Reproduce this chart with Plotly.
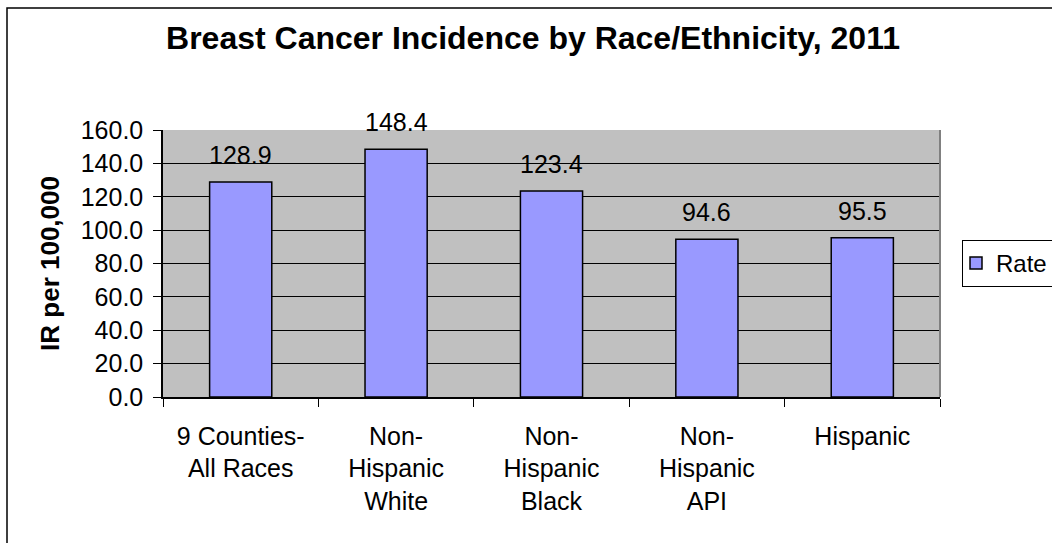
import plotly.graph_objects as go

categories = ["9 Counties-<br>All Races", "Non-<br>Hispanic<br>White", "Non-<br>Hispanic<br>Black",
              "Non-<br>Hispanic<br>API", "Hispanic"]
rates = [128.9, 148.4, 123.4, 94.6, 95.5]
y_ticks = [0, 20, 40, 60, 80, 100, 120, 140, 160]
series_name = "Rate"
title_text = "Breast Cancer Incidence by Race/Ethnicity, 2011"
y_title = "IR per 100,000"

W, H = 1052, 543
ml, mr, mt, mb = 163, 112, 130, 146
pw, ph = W - ml - mr, H - mt - mb
FONT = "Liberation Sans, Arial, sans-serif"

fig = go.Figure()
fig.add_trace(go.Bar(
    x=categories, y=rates, name=series_name,
    marker=dict(color="#9999FF", line=dict(color="black", width=1.5)),
    showlegend=True,
))

for c, v in zip(categories, rates):
    fig.add_annotation(x=c, y=v, text=f"{v:.1f}", showarrow=False,
                       yanchor="middle", yshift=27,
                       font=dict(family=FONT, size=25, color="black"))

def px_x(p):
    return (p - ml) / pw

def px_y(p):
    return (H - mb - p) / ph

# outer chart border (extends past the visible window on the right/bottom)
fig.add_shape(type="rect", xref="paper", yref="paper",
              x0=px_x(7), y0=px_y(560), x1=px_x(1070), y1=px_y(8),
              line=dict(color="black", width=1.5), fillcolor="rgba(0,0,0,0)", layer="below")
# plot-area right border (gray)
fig.add_shape(type="line", xref="paper", yref="paper", x0=1, x1=1, y0=0, y1=1,
              line=dict(color="#808080", width=2), layer="above")

fig.update_layout(
    width=W, height=H,
    margin=dict(l=ml, r=mr, t=mt, b=mb, autoexpand=False),
    paper_bgcolor="white", plot_bgcolor="#C0C0C0",
    font=dict(family=FONT, size=25, color="black"),
    bargap=0.6,
    title=dict(text=f"<b>{title_text}</b>", xref="container", yref="container",
               x=533 / W, y=1 - 38 / H, xanchor="center", yanchor="middle",
               font=dict(family=FONT, size=32, color="black")),
    legend=dict(x=px_x(962), y=px_y(240), xanchor="left", yanchor="top",
                bgcolor="white", bordercolor="black", borderwidth=1,
                indentation=-7,
                font=dict(family=FONT, size=24, color="black")),
)

fig.update_xaxes(
    showline=True, linecolor="black", linewidth=1.5,
    ticks="outside", tickson="boundaries", ticklen=8, tickcolor="black",
    tickfont=dict(family=FONT, size=25, color="black"),
    ticklabelstandoff=16,
    showgrid=False,
)
fig.update_yaxes(
    range=[0, 160], tickvals=y_ticks, tickformat=".1f",
    showline=True, linecolor="black", linewidth=1.5,
    ticks="outside", ticklen=8, tickcolor="black",
    tickfont=dict(family=FONT, size=25, color="black"),
    ticklabelstandoff=5,
    showgrid=True, gridcolor="black", gridwidth=1,
    zeroline=False,
    title=dict(text=f"<b>{y_title}</b>", standoff=14,
               font=dict(family=FONT, size=26, color="black")),
)

fig.write_html("out.html")
